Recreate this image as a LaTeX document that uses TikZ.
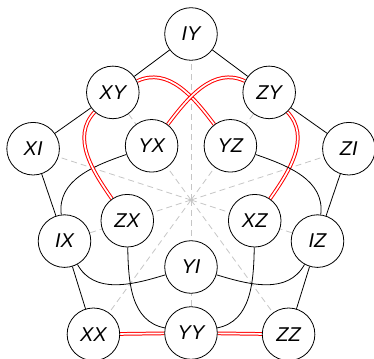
\documentclass[tikz,border=0pt]{standalone}
\usepackage{fontspec}
\setmainfont{Liberation Sans}
\usetikzlibrary{backgrounds}

\begin{document}
\begin{tikzpicture}[
    x=1pt,
    y=1pt,
    pauli/.style={
        circle,
        draw,
        fill=white,
        line width=0.8pt,
        minimum size=52.6pt,
        inner sep=0pt,
        font=\itshape\fontsize{20}{20}\selectfont
    },
    edge/.style={
        line width=0.8pt
    },
    anti/.style={
        draw=red,
        double=white,
        line width=1pt,
        double distance=1.7pt
    },
    spoke/.style={
        draw=gray!45,
        line width=0.8pt,
        dash pattern=on 6pt off 4pt
    }
]
\useasboundingbox (-191,-158) rectangle (183,200);

\coordinate (O) at (0,0);

% Outer ring
\node[pauli] (IY) at (90:166pt) {IY};
\node[pauli] (XI) at (162:166pt) {XI};
\node[pauli] (XX) at (234:166pt) {XX};
\node[pauli] (ZZ) at (306:166pt) {ZZ};
\node[pauli] (ZI) at (18:166pt) {ZI};

% Middle ring
\node[pauli] (XY) at (126:133pt) {XY};
\node[pauli] (IX) at (198:133pt) {IX};
\node[pauli] (YY) at (270:133pt) {YY};
\node[pauli] (IZ) at (342:133pt) {IZ};
\node[pauli] (ZY) at (54:133pt) {ZY};

% Inner ring
\node[pauli] (YX) at (126:67pt) {YX};
\node[pauli] (ZX) at (198:67pt) {ZX};
\node[pauli] (YI) at (270:67pt) {YI};
\node[pauli] (XZ) at (342:67pt) {XZ};
\node[pauli] (YZ) at (54:67pt) {YZ};

\begin{scope}[on background layer]
    % Spokes
    \draw[spoke] (O) -- (IY);
    \draw[spoke] (O) -- (XI);
    \draw[spoke] (O) -- (XX);
    \draw[spoke] (O) -- (ZZ);
    \draw[spoke] (O) -- (ZI);
    \draw[spoke] (O) -- (XY);
    \draw[spoke] (O) -- (IX);
    \draw[spoke] (O) -- (YY);
    \draw[spoke] (O) -- (IZ);
    \draw[spoke] (O) -- (ZY);

    % Pentagon
    \draw[edge] (IY) -- (XY) -- (XI) -- (IX) -- (XX);
    \draw[edge] (IY) -- (ZY) -- (ZI) -- (IZ) -- (ZZ);
    \draw[anti] (XX) -- (YY);
    \draw[anti] (YY) -- (ZZ);

    % Inner curves
    \draw[edge] (IZ) to[out=-119, in=-17] (YI);
    \draw[edge] (IX) to[out=-61, in=197] (YI);
    \draw[anti] (ZY) to[out=-47, in=55] (XZ);
    \draw[edge] (YY) to[out=11, in=-91] (XZ);
    \draw[anti] (XY) to[out=25, in=127] (YZ);
    \draw[edge] (IZ) to[out=83, in=-19] (YZ);
    \draw[edge] (IX) to[out=97, in=199] (YX);
    \draw[anti] (ZY) to[out=155, in=53] (YX);
    \draw[edge] (YY) to[out=169, in=271] (ZX);
    \draw[anti] (XY) to[out=227, in=125] (ZX);
\end{scope}

\end{tikzpicture}
\end{document}
